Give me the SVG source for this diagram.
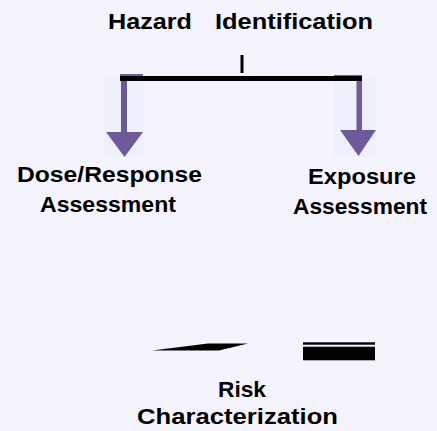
<svg xmlns="http://www.w3.org/2000/svg" width="437" height="431" viewBox="0 0 437 431">
<style>
.t{font-family:"Liberation Sans",Arial,sans-serif;font-weight:bold;font-size:22.5px;fill:#000}
.arr{fill:#6e5a98}
.patch{fill:#eef0fb}
</style>
<rect width="437" height="431" fill="#f5f4fd"/>
<g id="hazard">
<text class="t" x="108" y="29" textLength="84" lengthAdjust="spacingAndGlyphs">Hazard</text>
<text class="t" x="215" y="29" textLength="158" lengthAdjust="spacingAndGlyphs">Identification</text>
</g>
<g id="connectors">
<rect class="patch" x="103" y="74" width="41" height="84"/>
<rect class="patch" x="334" y="75" width="43" height="82"/>
<rect x="240.5" y="55" width="3" height="18" fill="#000"/>
<rect class="arr" x="120" y="74" width="23" height="3"/>
<rect class="arr" x="334" y="75" width="28" height="3"/>
<rect x="120" y="76" width="242" height="5" fill="#000"/>
<rect class="arr" x="121" y="81" width="6" height="52"/>
<polygon class="arr" points="106,132 143,132 124.5,157"/>
<rect class="arr" x="356.5" y="81" width="5.5" height="50"/>
<polygon class="arr" points="340,130 376,130 358.5,156"/>
</g>
<g id="dose">
<text class="t" x="17" y="182" textLength="185" lengthAdjust="spacingAndGlyphs">Dose/Response</text>
<text class="t" x="40" y="211.5" textLength="136" lengthAdjust="spacingAndGlyphs">Assessment</text>
</g>
<g id="exposure">
<text class="t" x="308" y="184" textLength="108" lengthAdjust="spacingAndGlyphs">Exposure</text>
<text class="t" x="293" y="214" textLength="134" lengthAdjust="spacingAndGlyphs">Assessment</text>
</g>
<g id="shapes">
<polygon points="152,350.5 208,343.5 248,343.5 219,350.5" fill="#000"/>
<rect x="303" y="342.3" width="72" height="2.4" fill="#000"/>
<rect x="303" y="346.7" width="72" height="13.6" fill="#000"/>
</g>
<g id="risk">
<text class="t" x="218" y="396.5" textLength="48" lengthAdjust="spacingAndGlyphs">Risk</text>
<text class="t" x="137" y="424" textLength="201" lengthAdjust="spacingAndGlyphs">Characterization</text>
</g>
</svg>
